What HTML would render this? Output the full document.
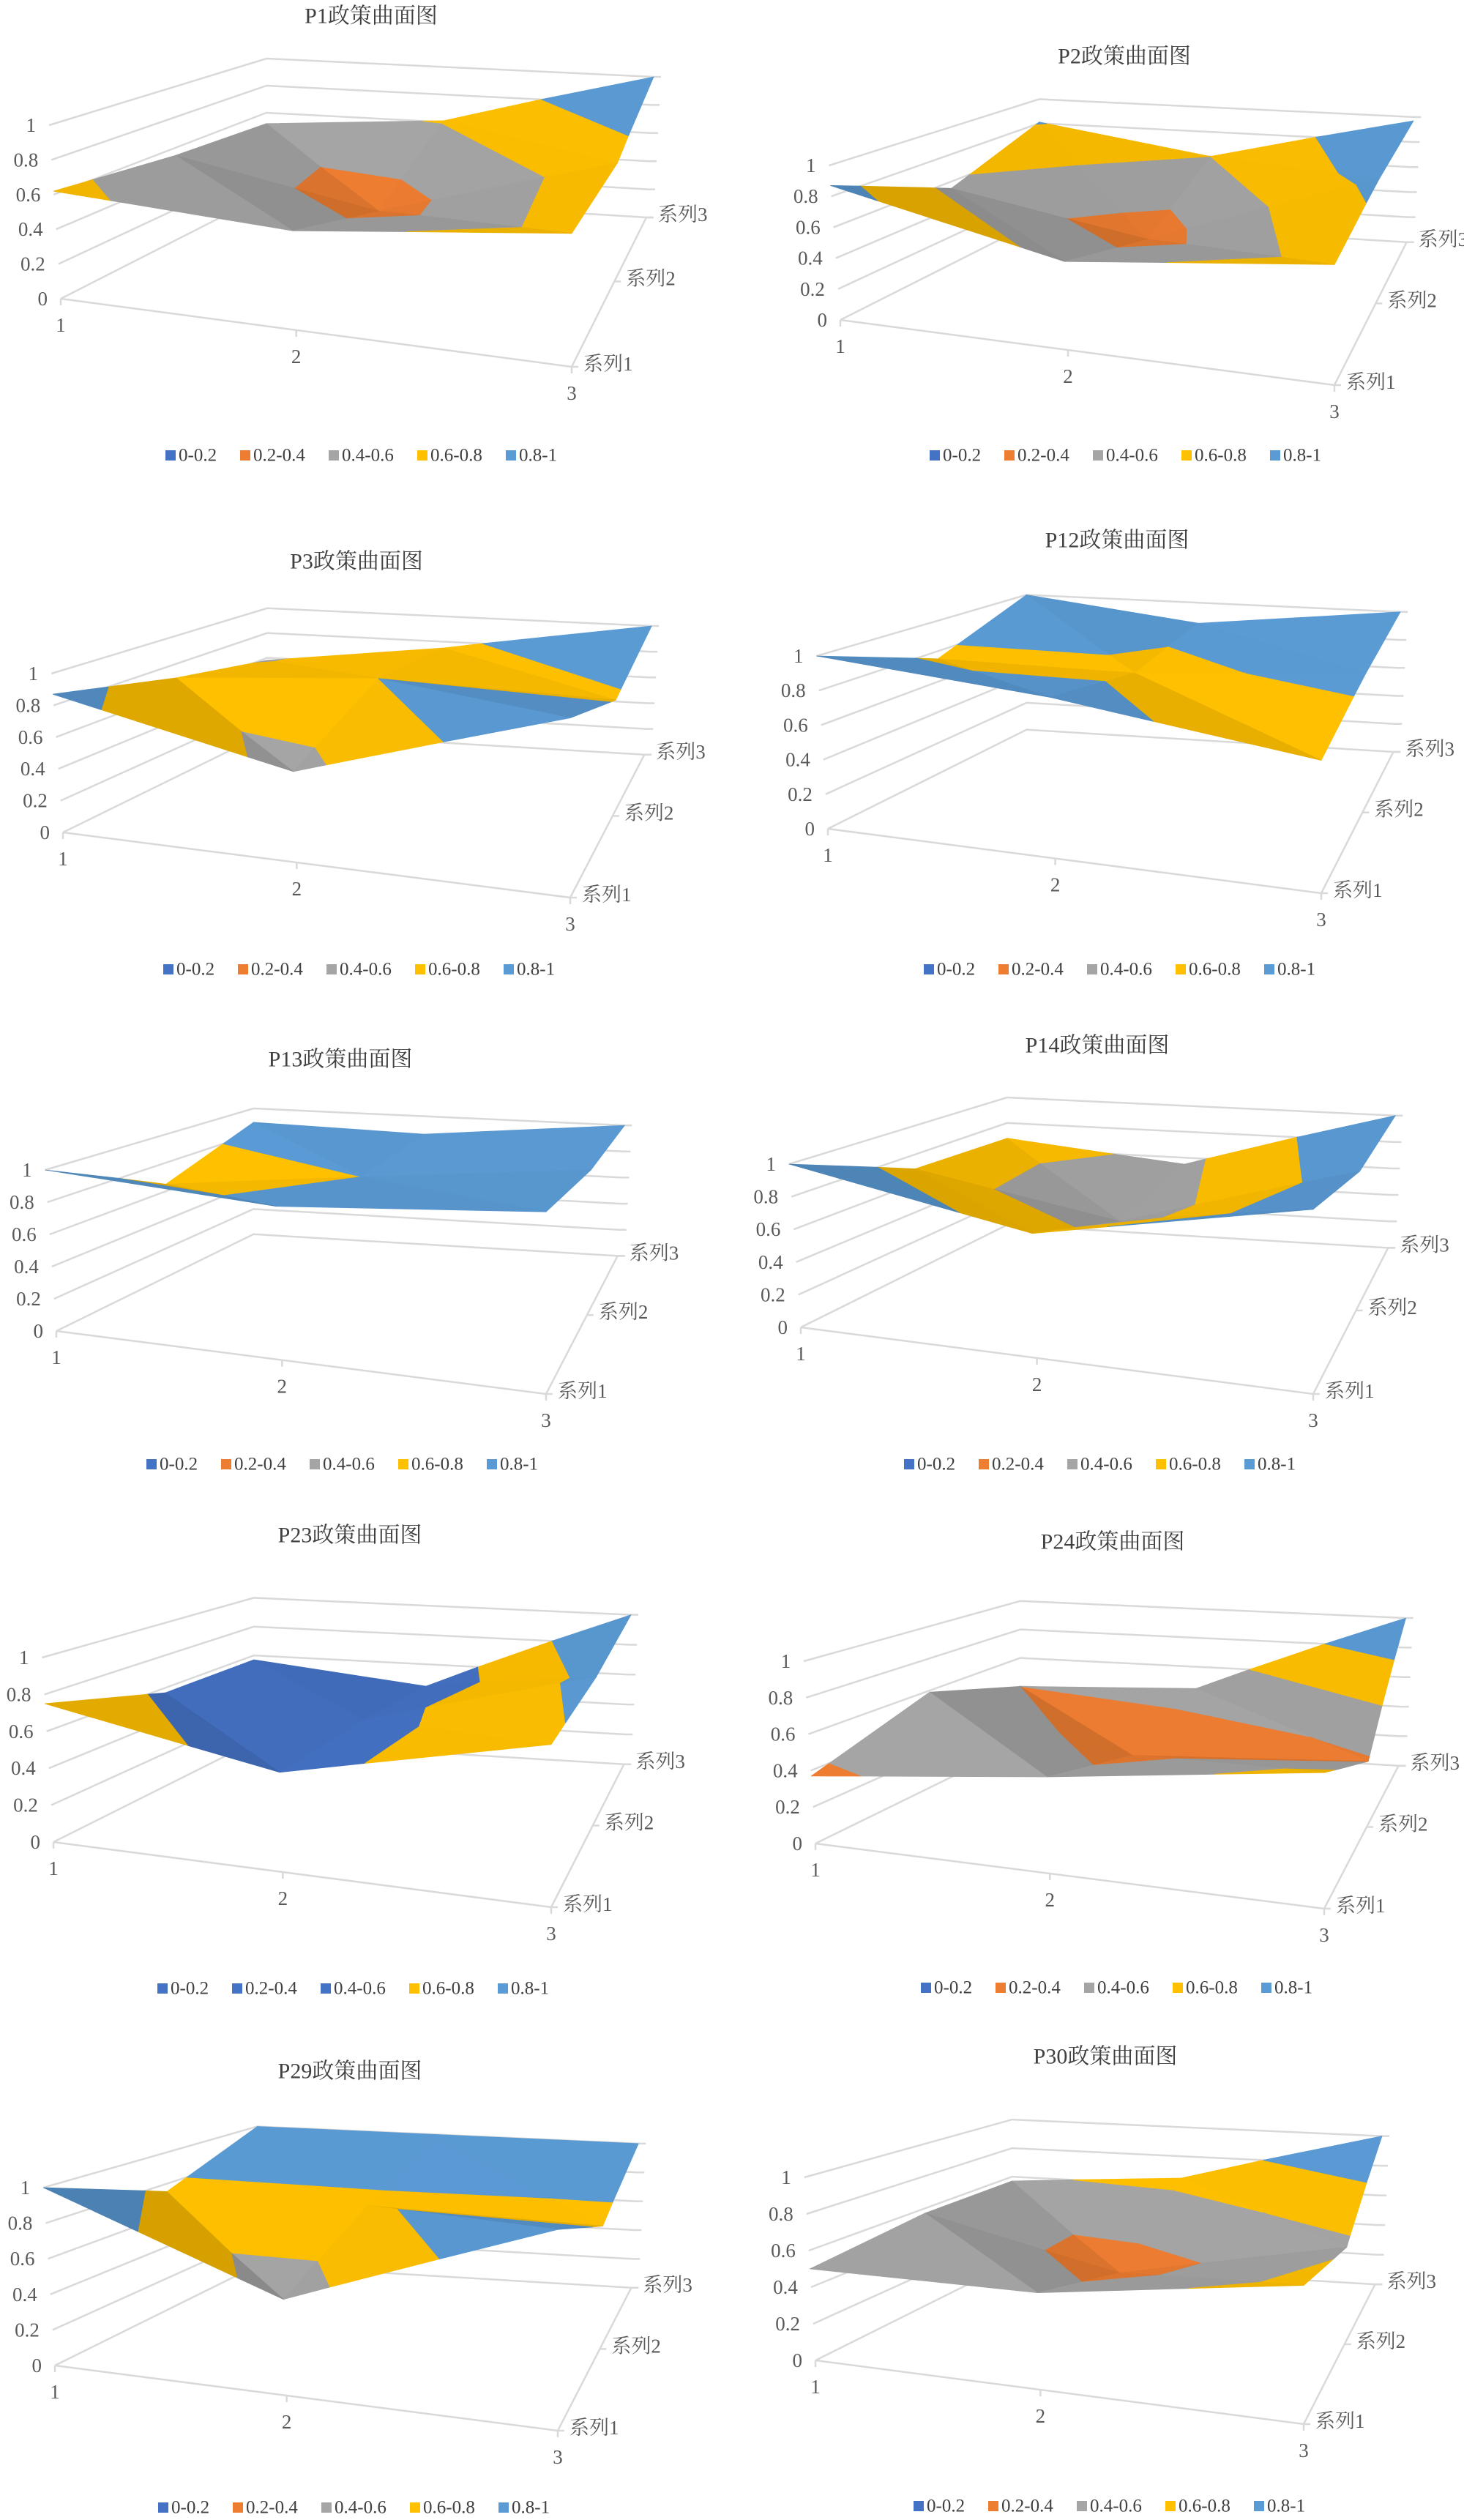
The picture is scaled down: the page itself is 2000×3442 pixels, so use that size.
<!DOCTYPE html>
<html><head><meta charset="utf-8"><style>
html,body{margin:0;padding:0;background:#fff;}
svg{display:block;font-family:"Liberation Serif","Noto Serif CJK SC",serif;}
</style></head><body>
<svg id="root" width="2000" height="3442" viewBox="0 0 2000 3442" xmlns="http://www.w3.org/2000/svg">
<rect x="0" y="0" width="2000" height="3442" fill="#fff"/>
</svg>
<script>
// ---- data ----
const categories = ['1','2','3'];
const seriesNames = ['系列1','系列2','系列3'];
const zTicks = [0,0.2,0.4,0.6,0.8,1];
const bandLabels = ['0-0.2','0.2-0.4','0.4-0.6','0.6-0.8','0.8-1'];
const bandEdges = [0.2,0.4,0.6,0.8];
const chartTitles = ['P1政策曲面图','P2政策曲面图','P3政策曲面图','P12政策曲面图','P13政策曲面图','P14政策曲面图','P23政策曲面图','P24政策曲面图','P29政策曲面图','P30政策曲面图'];
// values[series][category]
const p1Values  = [[0.62,0.54,0.68],[0.55,0.30,0.72],[0.52,0.61,1.0]];
const p2Values  = [[0.87,0.54,0.69],[0.55,0.30,0.85],[0.81,0.60,0.97]];
const p3Values  = [[0.87,0.54,1.0],[0.70,0.80,0.77],[0.58,0.75,1.0]];
const p12Values = [[1.0,0.88,0.68],[0.75,0.75,0.85],[1.0,0.85,1.0]];
const p13Values = [[1.0,0.90,1.0],[0.65,0.80,0.95],[0.89,0.86,1.0]];
const p14Values = [[1.0,0.72,1.0],[0.70,0.45,0.90],[0.68,0.55,1.0]];
const p23Values = [[0.75,0.51,0.78],[0.57,0.50,0.85],[0.57,0.45,1.0]];
const p24Values = [[0.37,0.50,0.66],[0.59,0.30,0.38],[0.40,0.45,1.0]];
const p29Values = [[1.0,0.51,1.0],[0.75,0.75,0.73],[1.0,1.0,1.0]];
const p30Values = [[0.50,0.50,0.67],[0.57,0.30,0.56],[0.57,0.65,1.0]];
const defaultColors = ['#4472C4','#ED7D31','#A5A5A5','#FFC000','#5B9BD5'];
const p23Colors = ['#4472C4','#4472C4','#4472C4','#FFC000','#5B9BD5'];

// ---- layout (pixel geometry, not data) ----
const layouts = [
 {fl:[83,408],fr:[781,501],h:237,title:[507,22],leg:[233,622]},
 {fl:[1148,437],fr:[1823,526],h:211,title:[1536,77],leg:[1277,622]},
 {fl:[86,1137],fr:[779,1226],h:217,title:[487,767],leg:[230,1324]},
 {fl:[1131,1132],fr:[1805,1220],h:236,title:[1526,738],leg:[1269,1324]},
 {fl:[77,1818],fr:[746,1904],h:220,title:[465,1447],leg:[207,2000]},
 {fl:[1094,1813],fr:[1794,1904],h:223,title:[1499,1428],leg:[1242,2000]},
 {fl:[73,2516],fr:[753,2605],h:252,title:[478,2097],leg:[222,2716]},
 {fl:[1114,2518],fr:[1809,2607],h:249,title:[1520,2106],leg:[1265,2715]},
 {fl:[75,3231],fr:[762,3320],h:243,title:[478,2829],leg:[223,3425]},
 {fl:[1114,3224],fr:[1781,3311],h:250,title:[1510,2809],leg:[1255,3423]}
];
const chartValues = [p1Values,p2Values,p3Values,p12Values,p13Values,p14Values,p23Values,p24Values,p29Values,p30Values];
const chartColors = [defaultColors,defaultColors,defaultColors,defaultColors,defaultColors,defaultColors,p23Colors,defaultColors,defaultColors,defaultColors];

const NS='http://www.w3.org/2000/svg';
const root=document.getElementById('root');
function mk(tag,parent,attrs){const e=document.createElementNS(NS,tag);for(const k in attrs)e.setAttribute(k,attrs[k]);parent.appendChild(e);return e;}

function makeProj(L){
  const sx=(L.fr[0]-L.fl[0])/698, sfy=(L.fr[1]-L.fl[1])/93, vz=L.h/237;
  const F=[[0,0],[698,93],[281,-143],[800,-111]];
  const S=[237,268,185,192], Ln=[-16,0,0,10];
  return function(c,s,z){
    let u=c/2, v=s/2;
    u=u/(u+(1-u)*1.17||1); if(c<=0)u=0;
    v=v/(v+(1-v)*0.75||1); if(s<=0)v=0;
    const w=[(1-u)*(1-v),u*(1-v),(1-u)*v,u*v];
    let x=0,y=0,sc=0,ln=0;
    for(let i=0;i<4;i++){x+=w[i]*F[i][0];y+=w[i]*F[i][1];sc+=w[i]*S[i];ln+=w[i]*Ln[i];}
    return [L.fl[0]+x*sx+ln*sx*z, L.fl[1]+y*sfy-sc*vz*z];
  };
}
function clipPoly(poly,lim,keepAbove){
  const out=[];
  for(let i=0;i<poly.length;i++){
    const a=poly[i],b=poly[(i+1)%poly.length];
    const ina=keepAbove?a.z>=lim:a.z<=lim, inb=keepAbove?b.z>=lim:b.z<=lim;
    if(ina)out.push(a);
    if(ina!==inb){const t=(lim-a.z)/(b.z-a.z);out.push({c:a.c+t*(b.c-a.c),s:a.s+t*(b.s-a.s),z:lim});}
  }
  return out;
}
function shade(hex,f){const n=parseInt(hex.slice(1),16);let r=(n>>16)&255,g=(n>>8)&255,b=n&255;
  r=Math.round(Math.min(255,r*f));g=Math.round(Math.min(255,g*f));b=Math.round(Math.min(255,b*f));
  return 'rgb('+r+','+g+','+b+')';}
function area(pts){let a=0;for(let i=0;i<pts.length;i++){const p=pts[i],q=pts[(i+1)%pts.length];a+=p[0]*q[1]-q[0]*p[1];}return a/2;}

function drawChart(idx){
  const L=layouts[idx], vals=chartValues[idx], cols=chartColors[idx];
  const P=makeProj(L);
  const g=mk('g',root,{});
  
  
  const t=mk('text',g,{x:L.title[0],y:L.title[1],'text-anchor':'middle','dominant-baseline':'central','font-size':30,fill:'#404040'});
  t.textContent=chartTitles[idx];
  
  
  const grid=mk('g',g,{stroke:'#d9d9d9','stroke-width':2.5,fill:'none'});
  
  
  zTicks.forEach(z=>{
    const a=P(0,0,z),b=P(0,2,z),c=P(2,2,z);
    const pl=mk('polyline',grid,{points:a.join(',')+' '+b.join(',')+' '+c.join(',')+' '+(c[0]+10)+','+c[1]});
    
    
    const lb=mk('text',g,{x:a[0]-18,y:a[1],'text-anchor':'end','dominant-baseline':'central','font-size':27,fill:'#595959'});
    lb.textContent=String(z);
    
    
  });
  const f0=P(0,0,0),f2=P(2,0,0),b2=P(2,2,0);
  const fl=mk('polyline',grid,{points:f0.join(',')+' '+f2.join(',')+' '+b2.join(',')});
  
  
  categories.forEach((cat,i)=>{
    const p=P(i,0,0);
    const tk=mk('line',grid,{x1:p[0],y1:p[1],x2:p[0],y2:p[1]+9});
    
    
    const lb=mk('text',g,{x:p[0],y:p[1]+36,'text-anchor':'middle','dominant-baseline':'central','font-size':27,fill:'#595959'});
    lb.textContent=cat;
    
    
  });
  seriesNames.forEach((sn,j)=>{
    const p=P(2,j,0);
    const tk=mk('line',grid,{x1:p[0],y1:p[1],x2:p[0]+9,y2:p[1]});
    
    
    const lb=mk('text',g,{x:p[0]+16,y:p[1]-4,'text-anchor':'start','dominant-baseline':'central','font-size':27,fill:'#595959'});
    lb.textContent=sn;
    
    
  });
  const tris=[];
  for(let s=0;s<2;s++)for(let c=0;c<2;c++){
    const v00={c:c,s:s,z:vals[s][c]},v10={c:c+1,s:s,z:vals[s][c+1]},v01={c:c,s:s+1,z:vals[s+1][c]},v11={c:c+1,s:s+1,z:vals[s+1][c+1]};
    tris.push([v00,v10,v01]);tris.push([v10,v11,v01]);
  }
  tris.forEach(tr=>{tr.depth=(tr[0].s+tr[1].s+tr[2].s)/3+0.3*(2-(tr[0].c+tr[1].c+tr[2].c)/3);});
  tris.sort((a,b)=>b.depth-a.depth);
  const surf=mk('g',g,{});
  
  
  const Lt=[-0.3,-0.5,1];const ll=Math.hypot(...Lt);
  tris.forEach(tr=>{
    const e1=[tr[1].c-tr[0].c,tr[1].s-tr[0].s,2*(tr[1].z-tr[0].z)],e2=[tr[2].c-tr[0].c,tr[2].s-tr[0].s,2*(tr[2].z-tr[0].z)];
    let n=[e1[1]*e2[2]-e1[2]*e2[1],e1[2]*e2[0]-e1[0]*e2[2],e1[0]*e2[1]-e1[1]*e2[0]];
    if(n[2]<0)n=n.map(x=>-x);
    const nl=Math.hypot(...n)||1;
    const dot=(n[0]*Lt[0]+n[1]*Lt[1]+n[2]*Lt[2])/(nl*ll);
    const top=tr.map(v=>P(v.c,v.s,v.z)),flo=tr.map(v=>P(v.c,v.s,0));
    const under=Math.sign(area(top))!==Math.sign(area(flo));
    const f=under?0.38:(0.78+0.22*Math.max(0,dot));
    for(let b=0;b<5;b++){
      let poly=tr.slice();
      if(b>0)poly=clipPoly(poly,bandEdges[b-1],true);
      if(poly.length&&b<4)poly=clipPoly(poly,bandEdges[b],false);
      if(poly.length<3)continue;
      const pts=poly.map(v=>P(v.c,v.s,v.z).map(x=>x.toFixed(1)).join(',')).join(' ');
      const col=shade(cols[b],f);
      const pg=mk('polygon',surf,{points:pts,fill:col,stroke:col,'stroke-width':0.8,'stroke-linejoin':'round'});
      
      
    }
  });
  const leg=mk('g',g,{});
  
  
  const offs=[0,102,223,344,465];
  bandLabels.forEach((bl,i)=>{
    const x=L.leg[0]+offs[i],y=L.leg[1];
    const it=mk('g',leg,{});
    
    
    mk('rect',it,{x:x-7,y:y-7,width:14,height:14,fill:cols[i]});
    const tx=mk('text',it,{x:x+11,y:y,'dominant-baseline':'central','font-size':25,fill:'#404040'});
    tx.textContent=bl;
  });
}
for(let i=0;i<layouts.length;i++)drawChart(i);
</script>
</body></html>
